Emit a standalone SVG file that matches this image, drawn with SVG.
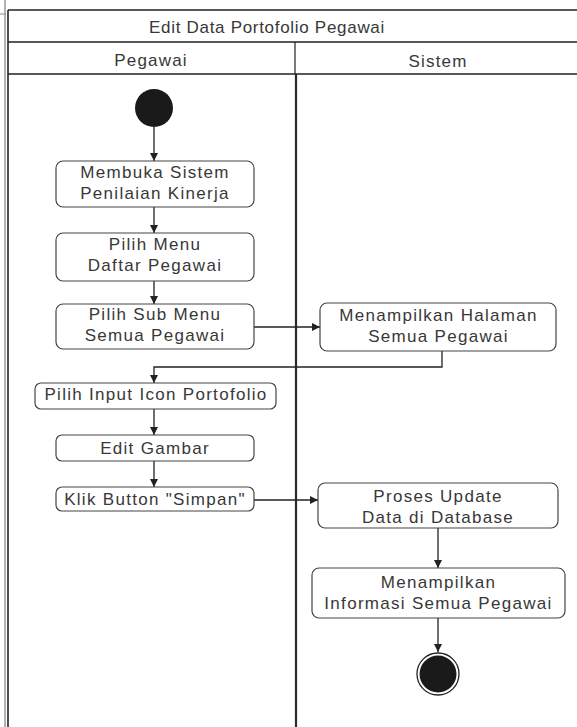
<svg xmlns="http://www.w3.org/2000/svg" width="577" height="727" viewBox="0 0 577 727">
<style>
.frame{fill:none;stroke:#222;stroke-width:1.6}
.lane{stroke:#2a2a2a;stroke-width:2.2}
.act{fill:#fff;stroke:#444;stroke-width:1.2}
.t{font-family:"Liberation Sans",Arial,sans-serif;font-size:17px;letter-spacing:1.3px;fill:#383838;text-anchor:middle}
.h{font-family:"Liberation Sans",Arial,sans-serif;font-size:17px;letter-spacing:1.2px;fill:#383838;text-anchor:middle}
.c{fill:none;stroke:#222;stroke-width:1.3}
</style>
<defs>
<marker id="ah" viewBox="0 0 10 10" refX="10" refY="5" markerWidth="8" markerHeight="8" markerUnits="userSpaceOnUse" orient="auto">
<path d="M0,0 L10,5 L0,10 Z" fill="#222"/>
</marker>
</defs>
<rect width="577" height="727" fill="#fff"/>
<g id="edge-artifacts">
<line x1="5" y1="0" x2="5" y2="727" stroke="#999" stroke-width="1.5"/>
<line x1="0" y1="14" x2="6" y2="14" stroke="#999" stroke-width="1.2"/>
</g>
<g id="frame">
<line class="frame" x1="8" y1="10" x2="8" y2="727"/>
<line class="frame" x1="8" y1="10" x2="577" y2="10"/>
<line class="frame" x1="8" y1="42" x2="577" y2="42"/>
<line class="frame" x1="8" y1="74" x2="577" y2="74"/>
<line class="frame" x1="295" y1="42" x2="295" y2="74" style="stroke-width:1.2"/>
<line class="lane" x1="296" y1="74" x2="296" y2="727"/>
<text class="h" x="267" y="33" style="letter-spacing:0.7px">Edit Data Portofolio Pegawai</text>
<text class="h" x="151" y="66">Pegawai</text>
<text class="h" x="438" y="67">Sistem</text>
</g>
<g id="connectors">
<line class="c" x1="154" y1="127" x2="154" y2="161" marker-end="url(#ah)"/>
<line class="c" x1="154" y1="207" x2="154" y2="233" marker-end="url(#ah)"/>
<line class="c" x1="154" y1="281" x2="154" y2="304" marker-end="url(#ah)"/>
<line class="c" x1="254" y1="327" x2="320" y2="327" marker-end="url(#ah)"/>
<polyline class="c" points="442,351 442,367 154,367 154,383" marker-end="url(#ah)"/>
<line class="c" x1="154" y1="409" x2="154" y2="435" marker-end="url(#ah)"/>
<line class="c" x1="154" y1="461" x2="154" y2="487" marker-end="url(#ah)"/>
<line class="c" x1="254" y1="500" x2="318" y2="500" marker-end="url(#ah)"/>
<line class="c" x1="438" y1="528" x2="438" y2="568" marker-end="url(#ah)"/>
<line class="c" x1="438" y1="618" x2="438" y2="652" marker-end="url(#ah)"/>
</g>
<g id="start">
<circle cx="154" cy="108" r="19" fill="#1a1a1a"/>
</g>
<g id="membuka">
<rect class="act" x="56" y="161" width="198" height="46" rx="7"/>
<text class="t" x="155" y="178">Membuka Sistem</text>
<text class="t" x="155" y="199">Penilaian Kinerja</text>
</g>
<g id="pilih-menu">
<rect class="act" x="56" y="233" width="198" height="48" rx="7"/>
<text class="t" x="155" y="250">Pilih Menu</text>
<text class="t" x="155" y="271">Daftar Pegawai</text>
</g>
<g id="pilih-sub-menu">
<rect class="act" x="56" y="304" width="198" height="45" rx="7"/>
<text class="t" x="155" y="320">Pilih Sub Menu</text>
<text class="t" x="155" y="341">Semua Pegawai</text>
</g>
<g id="menampilkan-halaman">
<rect class="act" x="320" y="303" width="236" height="48" rx="7"/>
<text class="t" x="438.5" y="321">Menampilkan Halaman</text>
<text class="t" x="438.5" y="342">Semua Pegawai</text>
</g>
<g id="pilih-input">
<rect class="act" x="35" y="383" width="241" height="26" rx="6"/>
<text class="t" x="156" y="399.5">Pilih Input Icon Portofolio</text>
</g>
<g id="edit-gambar">
<rect class="act" x="56" y="435" width="198" height="26" rx="6"/>
<text class="t" x="155" y="453.5">Edit Gambar</text>
</g>
<g id="klik-simpan">
<rect class="act" x="56" y="487" width="198" height="24" rx="6"/>
<text class="t" x="155" y="505">Klik Button "Simpan"</text>
</g>
<g id="proses-update">
<rect class="act" x="318" y="483" width="240" height="45" rx="7"/>
<text class="t" x="438" y="502">Proses Update</text>
<text class="t" x="438" y="522.5">Data di Database</text>
</g>
<g id="menampilkan-informasi">
<rect class="act" x="312" y="568" width="253" height="50" rx="7"/>
<text class="t" x="438.5" y="587.5">Menampilkan</text>
<text class="t" x="438.5" y="608.5">Informasi Semua Pegawai</text>
</g>
<g id="end">
<circle cx="438" cy="674" r="21" fill="#fff" stroke="#222" stroke-width="1.3"/>
<circle cx="438" cy="674" r="18.5" fill="#1a1a1a"/>
</g>
</svg>
